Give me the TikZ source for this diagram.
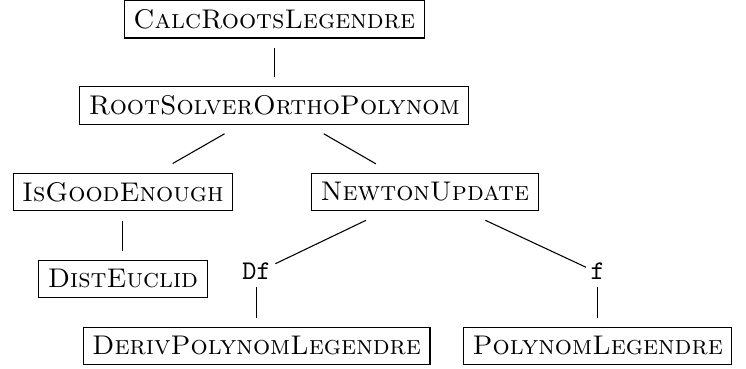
\documentclass[tikz,border=0pt]{standalone}
\usepackage{tikz}
\usetikzlibrary{positioning}
\tikzset{
func/.style={
  draw,
  rectangle,
  outer sep=3.6pt,
  font=\scshape
  },
arg/.style={
  inner sep=1.5pt,
  text depth=1.2pt,
  font=\ttfamily
  },
line/.style={-}
}

\begin{document}
\begin{tikzpicture}
\useasboundingbox (0,0) rectangle (9.71,-4.80);
\node[func] (calc) at (3.57,-0.25) {CalcRootsLegendre};
\node[func] (root) at (3.57,-1.37) {RootSolverOrthoPolynom};
\node[func] (good) at (1.60,-2.50) {IsGoodEnough};
\node[func] (newton) at (5.53,-2.50) {NewtonUpdate};
\node[func] (dist) at (1.60,-3.63) {DistEuclid};
\node[arg] (df) at (3.34,-3.55) {Df};
\node[arg] (f) at (7.78,-3.55) {f};
\node[func] (deriv) at (3.34,-4.50) {DerivPolynomLegendre};
\node[func] (poly) at (7.78,-4.50) {PolynomLegendre};
\draw[line] (calc) -- (root);
\draw[line] (root) -- (good);
\draw[line] (root) -- (newton);
\draw[line] (good) -- (dist);
\draw[line] (newton) -- (df);
\draw[line] (newton) -- (f);
\draw[line] (df) -- (deriv);
\draw[line] (f) -- (poly);
\end{tikzpicture}
\end{document}
